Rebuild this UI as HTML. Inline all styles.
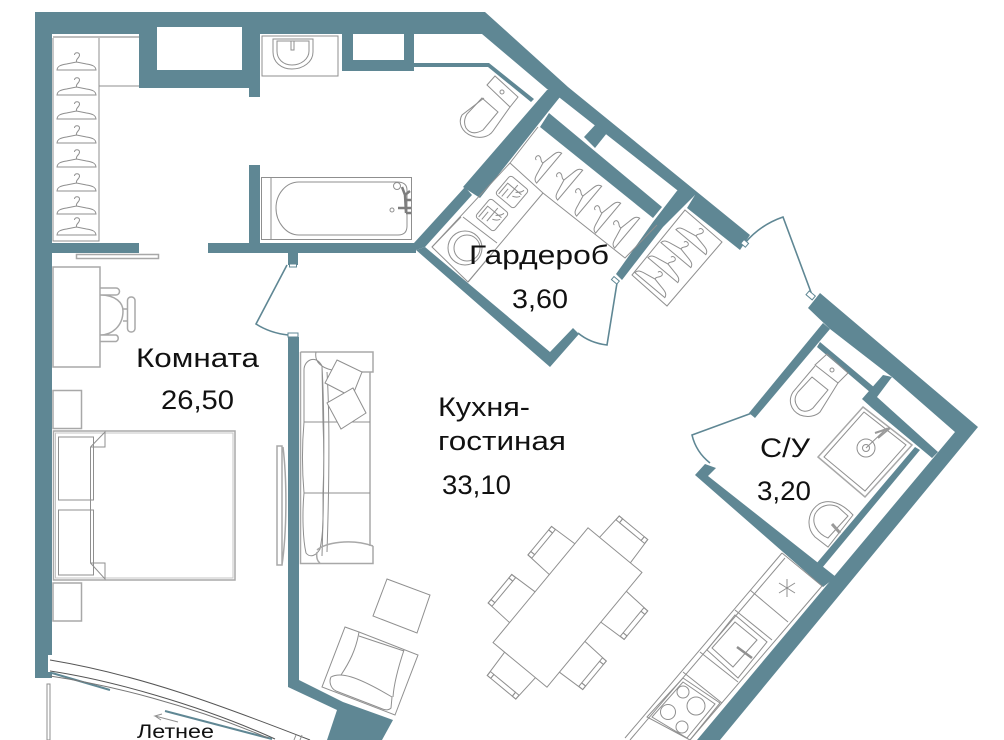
<!DOCTYPE html>
<html><head><meta charset="utf-8"><style>
html,body{margin:0;padding:0;background:#fff;width:1004px;height:740px;overflow:hidden}
svg{display:block}
.w{fill:#5f8794}
.f{fill:none;stroke:#8f8f8f;stroke-width:1}
.f2{fill:none;stroke:#a8a8a8;stroke-width:1.5}
.d{fill:none;stroke:#5f8794;stroke-width:1.6}
text{font-family:"Liberation Sans",sans-serif;fill:#111;font-size:27px}
</style></head><body>
<svg width="1004" height="740" viewBox="0 0 1004 740" xmlns="http://www.w3.org/2000/svg">
<defs>
<g id="h" class="f"><path d="M-19.500,8 C-19,4 -16,3 -10,2 L0,0 L10,2 C16,3 19,4 19.500,8 Z"/><path d="M0,0 C-1,-3 3,-4 3,-7 C3,-10 -2,-10 -2,-7"/></g>
<g id="c" class="f"><path d="M-20,0 L-18.500,-29 H18.500 L20,0"/><path d="M-14,-24 H14 M-14,-29 V-24 M14,-29 V-24"/><rect x="-18.500" y="-29" width="4.500" height="5"/><rect x="14" y="-29" width="4.500" height="5"/></g>
</defs>

<!-- walls -->
<polygon class="w" points="35,12 485,12 568,87 750,235 740,250 687,208 695,195 677,190 560,98 547,89 482,34 260,34 260,97 249,97 249,88 139,88 139,34 52,34 52,678 35,678"/>
<rect x="157" y="27" width="85" height="43" fill="#fff"/>
<rect x="48" y="655" width="4" height="17" fill="#fff"/>
<rect x="52" y="243" width="87" height="10" class="w"/>
<rect x="208" y="243" width="208" height="10" class="w"/>
<rect x="249" y="165" width="11" height="78" class="w"/>
<rect x="342" y="33" width="11" height="37" class="w"/>
<rect x="404" y="33" width="10" height="37" class="w"/>
<rect x="342" y="60" width="72" height="11" class="w"/>
<polygon class="w" points="414,63 489,63 534,99 531,102 488,67 414,67"/>
<polygon class="w" points="547,90 568,87 548,112 480,198 463,187"/>
<polygon class="w" points="465,187 472,195 425,247 416,250 414,243"/>
<polygon class="w" points="549,113 662,207 653,218 540,127"/>
<polygon class="w" points="584,137 597,123 607,133 595,148"/>
<polygon class="w" points="416,250 425,247 550,352 573,328 579,334 550,367"/>
<polygon class="w" points="683,183 695,195 663,227 622,280 616,274 653,222"/>
<polygon class="w" points="808,308 820,293 978,427 720,740 697,740 955,432 892,377 830,329"/>
<polygon class="w" points="820,342 875,388 871,393 817,347"/>
<polygon class="w" points="823,323 830,329 755,418 749,413"/>
<polygon class="w" points="883,375 892,377 877,397 938,452 932,458 872,408 862,399"/>
<polygon class="w" points="915,447 920,450 822,568 816,564"/>
<polygon class="w" points="695,475 705,464 716,468 708,476 836,577 823,587"/>
<polygon class="w" points="288,337 299,337 299,680 343,702 393,720 382,740 327,740 337,710 288,687"/>

<!-- doors -->
<rect x="288" y="253" width="10" height="12" class="w"/>
<rect x="289.500" y="264" width="7" height="3" fill="#fff" stroke="#5f8794"/>
<path class="d" d="M287,265 L256,324 Q270,333 288,335"/>
<rect x="288" y="333" width="10" height="4" fill="#fff" stroke="#5f8794"/>
<path class="d" d="M617,283 L607,345 Q590,343 578,333"/>
<rect x="612" y="278" width="7" height="4" fill="#fff" stroke="#5f8794" transform="rotate(40 615 280)"/>
<path class="d" d="M745,243 Q760,225 783,217 L812,295"/>
<rect x="742" y="241" width="6" height="5" fill="#fff" stroke="#5f8794" transform="rotate(40 745 243)"/>
<rect x="807" y="293" width="8" height="5" fill="#fff" stroke="#5f8794" transform="rotate(40 811 295)"/>
<path class="d" d="M752,413 L692,435 Q696,452 710,463"/>

<!-- left closet -->
<path class="f2" d="M53,37 H139"/>
<path class="f" d="M53,38 V241 H99 V38 M99,86 H139"/>
<use href="#h" x="76.500" y="62"/><use href="#h" x="76.500" y="87"/><use href="#h" x="76.500" y="111"/><use href="#h" x="76.500" y="135"/><use href="#h" x="76.500" y="159"/><use href="#h" x="76.500" y="183"/><use href="#h" x="76.500" y="206"/><use href="#h" x="76.500" y="227"/>
<rect x="76.500" y="254.500" width="82" height="4" class="f2"/>

<!-- top sink -->
<path class="f" d="M262,36 H338 V76 H262 Z M273,39 H313 V52 C313,62 303,69 292,69 C281,69 273,62 273,52 Z"/>
<path class="f" d="M277,41 H309 V51 C309,59 301,65 292,65 C283,65 277,59 277,51 Z"/>
<rect x="291" y="41" width="3" height="9" class="f"/>

<!-- bath -->
<rect x="261.500" y="177.500" width="150" height="62" class="f"/>
<path class="f" d="M271,177 V239"/>
<path class="f" d="M299,182 H397 C405,182 407,186 407,190 V226 C407,232 404,235 398,235 H299 C286,235 276,222 276,208 C276,194 286,182 299,182 Z"/>
<path d="M402,187 L405,195 L410,191 M405,195 L406,213 M398,208 H411 M406,200 H411 M406,213 H411" fill="none" stroke="#7d7d7d" stroke-width="2.500"/>
<circle cx="397" cy="186" r="3.500" class="f"/><circle cx="392" cy="210" r="2" class="f"/>

<!-- top toilet -->
<polygon class="f" points="487,85 495,76 518,97 510,107"/>
<circle cx="502" cy="92" r="2" class="f"/>
<path class="f" d="M484,98 L462,115 C458,122 461,132 472,136 C480,139 489,137 493,131 L510,107"/>
<path class="f" d="M482,98 L498,112 L483,130 C476,134 470,134 466,128 C464,124 464,119 467,114 Z"/>

<!-- wardrobe furniture -->
<path class="f" d="M510,163 L432,247 L468,282 L543,193 L510,163 M538,127 L510,163 M543,193 L625,258 L657,225 M463,217 L497,243"/>
<g transform="translate(512 192) rotate(40)"><rect x="-12" y="-12" width="24" height="24" rx="3" class="f"/><path class="f" d="M-9,10 V-4 H9 M-5,10 V0 M0,-9 L0,8 M3,-2 Q8,-6 8,-9 M3,3 Q8,1 9,-2"/></g>
<g transform="translate(492 215) rotate(40)"><rect x="-12" y="-12" width="24" height="24" rx="3" class="f"/><path class="f" d="M-9,10 V-4 H9 M-5,10 V0 M0,-9 L0,8 M3,-2 Q8,-6 8,-9 M3,3 Q8,1 9,-2"/></g>
<circle cx="465" cy="248" r="17" class="f"/><circle cx="467" cy="248" r="13" class="f"/>
<path class="f" d="M432,247 L461,217 M468,282 L489,257"/>
<use href="#h" transform="translate(543 163) rotate(-50)"/>
<use href="#h" transform="translate(564 180) rotate(-50)"/>
<use href="#h" transform="translate(583 196) rotate(-50)"/>
<use href="#h" transform="translate(602 213) rotate(-50)"/>
<use href="#h" transform="translate(621 228) rotate(-50)"/>
<polygon class="f" points="685,210 722,242 667,306 632,275"/>
<use href="#h" transform="translate(696 236) rotate(40)"/>
<use href="#h" transform="translate(681 249) rotate(40)"/>
<use href="#h" transform="translate(668 264) rotate(40)"/>
<use href="#h" transform="translate(655 279) rotate(40)"/>

<!-- C/U furniture -->
<polygon class="f" points="827,354 848,373 838,383 815,365"/>
<circle cx="832" cy="370" r="2" class="f"/>
<path class="f" d="M815,366 L793,392 C788,400 790,410 800,415 C808,418 816,416 820,412 L838,383"/>
<path class="f" d="M812,377 L828,390 L813,408 C807,413 800,412 797,406 C794,401 795,396 798,392 Z"/>
<polygon class="f2" points="863,407 912,445 865,497 818,457"/>
<polygon class="f" points="864,412 906,445 865,491 824,457"/>
<circle cx="866" cy="448" r="9" class="f"/><circle cx="866" cy="448" r="3.500" class="f"/>
<path class="f" d="M866,448 L887,428"/>
<path d="M875,433 L890,428 L878,438" fill="none" stroke="#9a9a9a" stroke-width="2"/>
<path class="f" d="M853,515 L828,547 L815,537 C806,528 807,512 819,504 C830,498 843,504 853,515 Z"/>
<path class="f" d="M848,516 L828,538 C818,534 811,524 815,514 C820,505 830,503 838,507 Z"/>
<path d="M832,524 L840,533" stroke="#9a9a9a" stroke-width="3" fill="none"/>

<!-- desk -->
<rect x="53" y="267" width="47" height="100" class="f2"/>
<path class="f2" d="M100,288 H116 A3.500,3.500 0 0 1 116,295 H100 M100,335 H116 A3.500,3.500 0 0 1 116,341.500 H100 M100,295 C116,295 123,303 123,311 C123,326 112,335 100,335 M123,309 H127 M123,321 H127"/>
<rect x="127.500" y="297" width="7.500" height="35" rx="3.500" class="f2"/>

<!-- bed -->
<rect x="53" y="390.500" width="28.500" height="38" class="f2"/>
<rect x="53.500" y="431" width="181.500" height="149" class="f2"/>
<rect x="55.500" y="433" width="177.500" height="145" fill="none" stroke="#c4c4c4" stroke-width="1"/>
<rect x="58.500" y="437" width="35" height="63" class="f"/>
<rect x="58.500" y="510" width="35" height="65" class="f"/>
<path class="f" d="M90.500,447 V563 L105,579 V563 H90.500 M90.500,447 L105,432 V447 H90.500"/>
<rect x="53" y="583" width="28.500" height="38" class="f2"/>

<!-- tv -->
<path class="f2" d="M277,446 H282 V565 H277 Z M283,447 C287,480 287,530 282,565"/>

<!-- sofa -->
<path class="f2" d="M300.500,352 H373 V372 H362 M370,372 V546 M300.500,352 V563.500 H373 V546"/>
<path class="f" d="M316,352 C314,362 322,368 332,370 M304,370 C304,360 316,354 322,366 L323,422 H304 Z M304,422 H370 M304,493 H370 M323,422 C324,445 324,470 323,493 H304 C302,470 302,445 304,422 M327,372 C330,420 329,490 327,552 M322,366 C325,420 324,490 322,556"/>
<path class="f" d="M304,493 C302,515 303,540 306,553 C310,558 316,556 320,549 C324,530 323,510 323,493"/>
<path class="f2" d="M317,550 C325,543 350,538 373,546 M317,552 C316,556 317,561 320,563"/>
<polygon points="337,360 362,372 352,397 325,383" fill="#fff" stroke="#8f8f8f"/>
<polygon points="353,388 366,413 341,429 327,403" fill="#fff" stroke="#8f8f8f"/>

<!-- armchair + table -->
<polygon class="f" points="387,579 430,595 417,633 373,616"/>
<polygon class="f" points="345,627 359,632 418,655 395,715 322,687"/>
<path class="f" d="M359,632 C356,650 349,663 341,675 M404,650 C398,668 394,683 393,697 M359,636 L404,651"/>
<path class="f" d="M331,677 C340,672 355,675 392,697 L391,708 C388,711 384,710 380,708 L336,691 C330,688 329,681 331,677 Z"/>

<!-- table -->
<g transform="translate(567.500 607.500) rotate(-50.400)">
<rect x="-74.500" y="-35" width="149" height="70" class="f"/>
<use href="#c" transform="translate(33.800 -35)"/>
<use href="#c" transform="translate(-28.600 -35)"/>
<use href="#c" transform="translate(30 35) rotate(180)"/>
<use href="#c" transform="translate(-35 35) rotate(180)"/>
<use href="#c" transform="translate(74.500 0) rotate(90)"/>
<use href="#c" transform="translate(-74.500 0) rotate(-90)"/>
</g>

<!-- kitchen -->
<path class="f" d="M782,553 L625,738 M785,558 L630,740 M782,553 L822,586 L690,740 M750,590 L788,622 M735,610 L772,640 M700,652 L738,682 M683,672 L722,703"/>
<path class="f" d="M787,579 V597 M779,583 L795,593 M795,583 L779,593"/>
<polygon class="f" points="735,615 767,642 738,678 707,650"/>
<polygon class="f" points="735,622 757,640 733,667 712,648"/>
<path d="M737,647 L752,658" stroke="#8f8f8f" stroke-width="2.500"/>
<polygon class="f" points="683,678 720,703 690,740 647,717"/>
<polygon class="f" points="683,682 715,704 687,738 652,717"/>
<circle cx="683" cy="692" r="6" class="f"/><circle cx="696" cy="706" r="9" class="f"/><circle cx="668" cy="712" r="7.500" class="f"/><circle cx="682" cy="727" r="6" class="f"/>

<!-- balcony -->
<path stroke="#555" fill="none" stroke-width="1" d="M50,660 C140,675 220,705 310,740"/>
<path stroke="#555" fill="none" stroke-width="1" d="M50,671 C110,680 200,705 275,739"/>
<path stroke="#5f8794" fill="none" stroke-width="2" d="M52,673 L110,690"/>
<path stroke="#5f8794" fill="none" stroke-width="2" d="M165,711 L272,739"/>
<path stroke="#777" fill="none" stroke-width="1" d="M50,676 C110,685 190,705 268,738"/>
<path class="f" d="M178,722 L155,716 L162,714 M155,716 L161,720"/>
<rect x="47" y="684" width="3" height="56" class="f"/>
<path class="f" d="M296,735 L294,740 M302,735 L300,740"/>

<!-- labels -->
<text x="469" y="264" textLength="140" lengthAdjust="spacingAndGlyphs">Гардероб</text>
<text x="512" y="308" textLength="56" lengthAdjust="spacingAndGlyphs">3,60</text>
<text x="136" y="367" textLength="123" lengthAdjust="spacingAndGlyphs">Комната</text>
<text x="161" y="409" textLength="73" lengthAdjust="spacingAndGlyphs">26,50</text>
<text x="438" y="416" textLength="92" lengthAdjust="spacingAndGlyphs">Кухня-</text>
<text x="438" y="450" textLength="128" lengthAdjust="spacingAndGlyphs">гостиная</text>
<text x="442" y="494" textLength="69" lengthAdjust="spacingAndGlyphs">33,10</text>
<text x="760" y="457" textLength="50" lengthAdjust="spacingAndGlyphs">С/У</text>
<text x="757" y="500" textLength="54" lengthAdjust="spacingAndGlyphs">3,20</text>
<text x="137" y="738" textLength="77" lengthAdjust="spacingAndGlyphs" style="font-size:19px">Летнее</text>
</svg>
</body></html>
